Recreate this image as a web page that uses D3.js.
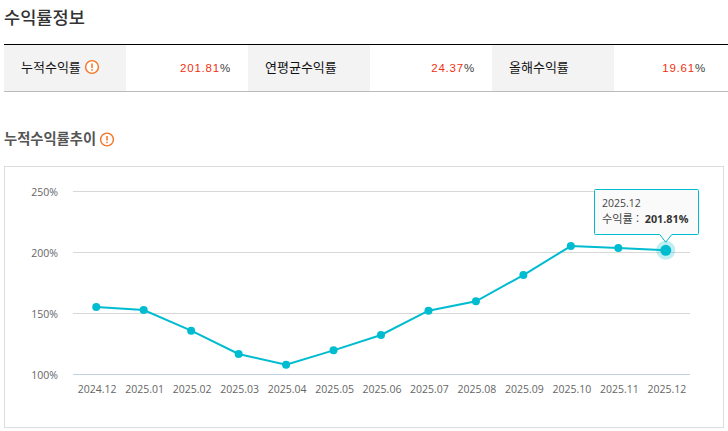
<!DOCTYPE html>
<html lang="ko">
<head>
<meta charset="utf-8">
<title>수익률정보</title>
<script src="https://cdn.jsdelivr.net/npm/d3@7/dist/d3.min.js"></script>
<style>
html,body{margin:0;padding:0;background:#fff;overflow:hidden}
svg{display:block}
</style>
</head>
<body>
<svg id="chart" width="728" height="431"></svg>
<script>
const categories = ["2024.12","2025.01","2025.02","2025.03","2025.04","2025.05","2025.06","2025.07","2025.08","2025.09","2025.10","2025.11","2025.12"];
const returns = [155.3,152.9,135.9,116.8,108,119.8,132.4,152.3,160,181.5,205.3,203.7,201.81];
const yTicks = [100,150,200,250];
const summaryLabels = ["누적수익률","연평균수익률","올해수익률"];
const summaryValues = ["201.81","24.37","19.61"];

const KR = "'Noto Sans CJK KR','Noto Sans',sans-serif";
const teal = "#00bcd0";
const svg = d3.select("#chart");

// page heading
svg.append("text").attr("x",4).attr("y",24).attr("font-family",KR).attr("font-size",17.6).attr("font-weight",500).attr("fill","#333").text("수익률정보");

// summary table
const cellW = 122;
const tableRight = 723;
const cellX = d3.scaleLinear().domain([0,1]).range([4,4+2*cellW]);
svg.append("g").selectAll("rect").data(summaryLabels).join("rect")
  .attr("x",(d,i)=>cellX(i)).attr("y",45).attr("width",cellW).attr("height",46).attr("fill","#f3f3f3");
svg.append("line").attr("x1",4).attr("x2",728).attr("y1",44.5).attr("y2",44.5).attr("stroke","#000");
svg.append("line").attr("x1",4).attr("x2",728).attr("y1",91.5).attr("y2",91.5).attr("stroke","#bbb");
svg.append("g").selectAll("text").data(summaryLabels).join("text")
  .attr("x",(d,i)=>cellX(i)+17).attr("y",72).attr("font-family",KR).attr("font-size",13).attr("fill","#111").text(d=>d);
const valueText = svg.append("g").selectAll("text").data(summaryValues).join("text")
  .attr("x",(d,i)=>Math.min(cellX(i)+2*cellW,tableRight)-17).attr("y",72).attr("text-anchor","end")
  .attr("font-family","'Liberation Sans',sans-serif").attr("font-size",11.5).attr("letter-spacing",0.8).attr("fill","#f03010");
valueText.append("tspan").text(d=>d);
valueText.append("tspan").attr("fill","#444").text("%");

// circled exclamation badge
function badge(cx,cy){
  const g = svg.append("g").attr("transform",`translate(${cx},${cy})`);
  g.append("circle").attr("r",6.4).attr("fill","#fff").attr("stroke","#f37321").attr("stroke-width",1.4);
  g.append("line").attr("y1",-3.4).attr("y2",0.9).attr("stroke","#f37321").attr("stroke-width",1.5);
  g.append("line").attr("y1",2.2).attr("y2",3.8).attr("stroke","#f37321").attr("stroke-width",1.5);
}
badge(92,67);
svg.append("text").attr("x",4).attr("y",144).attr("font-family",KR).attr("font-size",14.3).attr("font-weight",700).attr("fill","#555").text("누적수익률추이");
badge(107,139.5);

// chart frame
svg.append("rect").attr("x",4.5).attr("y",166.5).attr("width",719).attr("height",261).attr("fill","#fff").attr("stroke","#ddd");

const x = d3.scaleBand().domain(categories).range([72.5,689.5]);
const y = d3.scaleLinear().domain([100,250]).range([374.5,191.5]);
const cx = d => x(d)+x.bandwidth()/2;

// gridlines and value axis
svg.append("g").selectAll("line").data(yTicks).join("line")
  .attr("x1",73).attr("x2",690).attr("y1",d=>y(d)).attr("y2",d=>y(d))
  .attr("stroke",d=>d===100?"#c2d0e0":"#d8d8d8");
const axisFont = "'Open Sans','Noto Sans',sans-serif";
svg.append("g").selectAll("text").data(yTicks).join("text")
  .attr("x",58).attr("y",d=>y(d)+4).attr("text-anchor","end").attr("font-family",axisFont).attr("font-size",10.5).attr("fill","#666").text(d=>d+"%");
svg.append("g").selectAll("text").data(categories).join("text")
  .attr("x",d=>cx(d)+1).attr("y",393).attr("text-anchor","middle").attr("font-family",axisFont).attr("font-size",10.5).attr("fill","#666").text(d=>d);

// return series
const line = d3.line().x((d,i)=>cx(categories[i])).y(d=>y(d));
svg.append("path").datum(returns).attr("d",line).attr("fill","none").attr("stroke",teal).attr("stroke-width",2);
svg.append("g").selectAll("circle").data(returns).join("circle")
  .attr("cx",(d,i)=>cx(categories[i])).attr("cy",d=>y(d)).attr("r",4).attr("fill",teal);

// highlighted latest point
const lastIdx = returns.length-1;
const lx = cx(categories[lastIdx]), ly = y(returns[lastIdx]);
svg.append("circle").attr("cx",lx).attr("cy",ly).attr("r",9.5).attr("fill",teal).attr("opacity",0.25);
svg.append("circle").attr("cx",lx).attr("cy",ly).attr("r",5.5).attr("fill",teal);

// tooltip callout
const tw = 104, th = 45, tl = 594.5, tt = 189.5, tipY = ly-8;
svg.append("path")
  .attr("d",`M${tl+1},${tt} H${tl+tw-1} Q${tl+tw},${tt} ${tl+tw},${tt+1} V${tt+th-1} Q${tl+tw},${tt+th} ${tl+tw-1},${tt+th} H${lx+6} L${lx},${tipY} L${lx-6},${tt+th} H${tl+1} Q${tl},${tt+th} ${tl},${tt+th-1} V${tt+1} Q${tl},${tt} ${tl+1},${tt} Z`)
  .attr("fill","#fafafa").attr("stroke",teal).attr("stroke-width",1);
svg.append("text").attr("x",602).attr("y",207).attr("font-family",axisFont).attr("font-size",10.5).attr("fill","#444").text(categories[lastIdx]);
const tipText = svg.append("text").attr("x",602).attr("y",222.5).attr("font-family",KR).attr("font-size",11.2).attr("fill","#444");
tipText.append("tspan").text("수익률 : ");
tipText.append("tspan").attr("dx",2.5).attr("font-family",axisFont).attr("font-weight",700).attr("font-size",10.8).attr("fill","#333").text(returns[lastIdx].toFixed(2)+"%");
</script>
</body>
</html>
